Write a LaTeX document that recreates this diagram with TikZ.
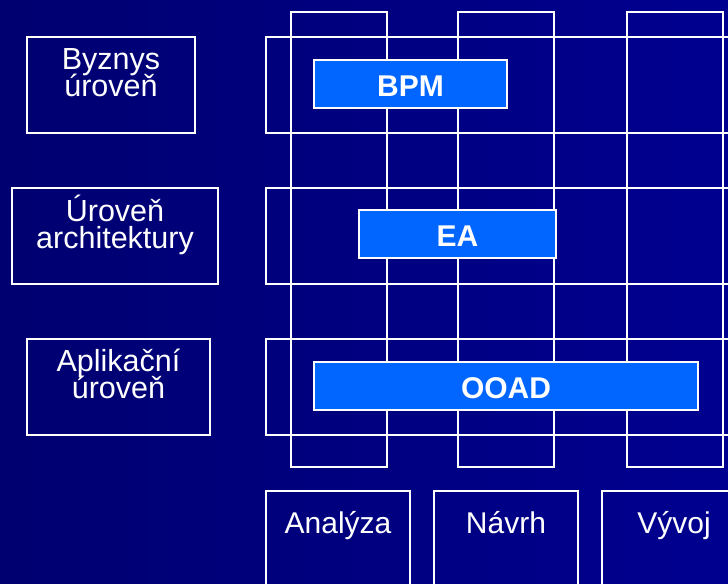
\documentclass[tikz,border=0pt]{standalone}
\usepackage{fontspec}
\setmainfont{Liberation Sans}
\usepackage{tikz}
\usetikzlibrary{positioning}
\definecolor{navyl}{RGB}{0,0,112}
\definecolor{navyr}{RGB}{0,0,144}
\definecolor{barblue}{RGB}{0,102,255}

\begin{document}
\lineskiplimit=-40pt
\begin{tikzpicture}[
  frame/.style={draw=white,line width=1.4pt,inner sep=0pt},
  lvltext/.style={inner sep=0pt,anchor=north,align=center,text=white,
    font=\fontsize{30.5bp}{27bp}\selectfont},
  phtext/.style={inner sep=0pt,anchor=base,text=white,font=\fontsize{30bp}{30bp}\selectfont},
  bar/.style={draw=white,line width=1.2pt,fill=barblue,inner sep=0pt,minimum height=48bp,
    text=white,font=\fontsize{30bp}{30bp}\selectfont\bfseries,text height=25.5bp,text depth=0pt}]
\useasboundingbox (0bp,0bp) rectangle (728bp,-584bp);
\clip (0bp,0bp) rectangle (728bp,-584bp);
\shade[left color=navyl,right color=navyr] (0bp,0bp) rectangle (728bp,-584bp);
% rows and columns of the grid
\foreach \t in {37,188,339}
  \draw[white,line width=1.4pt] (266bp,-\t bp) rectangle (760bp,-\t bp-96bp);
\foreach \l in {291,458,627}
  \draw[white,line width=1.4pt] (\l bp,-12bp) rectangle (\l bp+96bp,-467bp);
% levels
\node (byz) at (111bp,-85bp)[frame,minimum width=168bp,minimum height=96bp] {};
\node (arch) at (115bp,-236bp)[frame,minimum width=206bp,minimum height=96bp] {};
\node (apl) at (118.5bp,-387bp)[frame,minimum width=183bp,minimum height=96bp] {};
\node (byzt) at ([yshift=-3bp]byz.north)[lvltext] {\rule{0pt}{30bp}Byznys\\úroveň};
\node (archt) at ([yshift=-4bp]arch.north)[lvltext] {\rule{0pt}{30bp}Úroveň\\architektury};
\node (aplt) at ([yshift=-3bp]apl.north)[lvltext] {\rule{0pt}{30bp}Aplikační\\úroveň};
% phases
\node (ana) at (338bp,-545bp)[frame,minimum width=144bp,minimum height=108bp] {};
\node (nav) at (506bp,-545bp)[frame,minimum width=144bp,minimum height=108bp] {};
\node (vyv) at (674bp,-545bp)[frame,minimum width=144bp,minimum height=108bp] {};
\node (anat) at ([yshift=-43bp]ana.north)[phtext] {Analýza};
\node (navt) at ([yshift=-43bp]nav.north)[phtext] {Návrh};
\node (vyvt) at ([yshift=-43bp]vyv.north)[phtext] {Vývoj};
% methods
\node (bpm) at (410.5bp,-84bp)[bar,minimum width=193bp] {BPM};
\node (ea) at (457.5bp,-234bp)[bar,minimum width=197bp] {EA};
\node (ooad) at (506bp,-386bp)[bar,minimum width=384bp] {OOAD};
\end{tikzpicture}
\end{document}
